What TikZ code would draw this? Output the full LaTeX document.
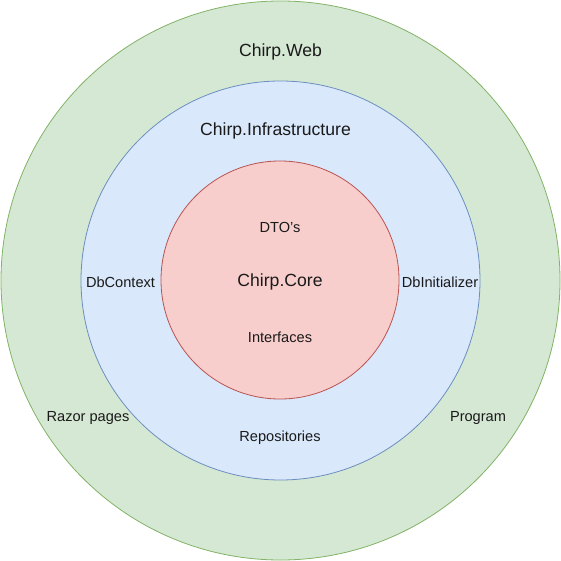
\documentclass[tikz,border=0pt]{standalone}
\usepackage{fontspec}
\setmainfont{Liberation Sans}
\definecolor{gfill}{HTML}{D5E8D4}
\definecolor{gline}{HTML}{82B366}
\definecolor{bfill}{HTML}{DAE8FC}
\definecolor{bline}{HTML}{6C8EBF}
\definecolor{rfill}{HTML}{F8CECC}
\definecolor{rline}{HTML}{B85450}
\definecolor{txt}{HTML}{1A1A1A}
\begin{document}
\begin{tikzpicture}[x=1pt,y=-1pt,
  ring/.style={circle,inner sep=0pt,line width=0.8pt},
  big/.style={font=\fontsize{17.6}{20}\selectfont,text=txt,inner sep=0pt},
  small/.style={font=\fontsize{14.6}{17}\selectfont,text=txt,inner sep=0pt}]
\useasboundingbox (0,0) rectangle (561,561);
\node[ring,draw=gline,fill=gfill,minimum size=559pt] (web) at (280.5,280.5) {};
\node[ring,draw=bline,fill=bfill,minimum size=399pt] (infra) at (280.5,280.5) {};
\node[ring,draw=rline,fill=rfill,minimum size=238pt] (core) at (280,280) {};
\node[big] (tweb) at (280.5,51.5) {Chirp.Web};
\node[big] (tinfra) at (275.5,131) {Chirp.Infrastructure};
\node[big] (tcore) at (280,282) {Chirp.Core};
\node[small] (dto) at (280,227.5) {DTO's};
\node[small] (intf) at (280,337.5) {Interfaces};
\node[small] (dbc) at (120.5,282.5) {DbContext};
\node[small] (dbi) at (440,282.5) {DbInitializer};
\node[small] (razor) at (88,417.5) {Razor pages};
\node[small] (prog) at (478,417.5) {Program};
\node[small] (repo) at (280,437.5) {Repositories};
\end{tikzpicture}
\end{document}
